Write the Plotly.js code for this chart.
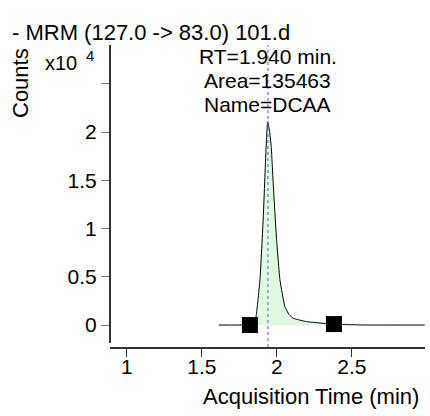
<!DOCTYPE html>
<html>
<head>
<meta charset="utf-8">
<script src="https://cdn.plot.ly/plotly-3.0.1.min.js"></script>
<style>html,body{margin:0;padding:0;background:#fff;}#chart{width:430px;height:416px;}</style>
</head>
<body>
<div id="chart"></div>
<script>
// Chromatogram (counts in units of 10^4)
const timeMin = [1.613, 1.70, 1.78, 1.82, 1.85, 1.862, 1.887, 1.909, 1.927, 1.938, 1.950, 1.962, 1.975, 1.998, 2.020, 2.053, 2.080, 2.109, 2.198, 2.331, 2.38, 2.45, 2.60, 2.80, 2.985];
const counts  = [0, 0, 0, 0, 0.02, 0.10, 0.47, 1.12, 1.81, 2.107, 2.02, 1.85, 1.47, 0.88, 0.47, 0.19, 0.11, 0.07, 0.035, 0.015, 0.01, 0.005, 0.0, 0.0, 0.0];
// Integration limits
const integTime = [1.82, 2.38];
const integCounts = [0, 0.01];
const rt = 1.940;
const labelLines = ["RT=1.940 min.", "Area=135463", "Name=DCAA"];
const yTickVals = [0, 0.5, 1, 1.5, 2, 2.5];
const yTickText = ["0", "0.5", "1", "1.5", "2", ""];
const xTickVals = [1, 1.5, 2, 2.5];
const xTickText = ["1", "1.5", "2", "2.5"];

const FONT = "Liberation Sans, Arial, sans-serif";

const fillX = [], fillY = [];
for (let i = 0; i < timeMin.length; i++) {
  if (timeMin[i] >= integTime[0] && timeMin[i] <= integTime[1]) { fillX.push(timeMin[i]); fillY.push(counts[i]); }
}

const traces = [
  {x: fillX, y: fillY, type: 'scatter', mode: 'lines', fill: 'tozeroy', fillcolor: '#e0f8e0', line: {width: 0, color: 'rgba(0,0,0,0)', shape: 'spline', smoothing: 0.4}, hoverinfo: 'skip'},
  {x: timeMin, y: counts, type: 'scatter', mode: 'lines', line: {color: '#000', width: 1, shape: 'spline', smoothing: 0.4}},
  {x: integTime, y: integCounts, type: 'scatter', mode: 'markers', marker: {symbol: 'square', size: 16, color: '#000'}}
];

const lineY = [57, 80.5, 104];
const annotations = labelLines.map((t, i) => ({
  xref: 'x', yref: 'paper', x: rt, y: 1 - (lineY[i]-45)/302, text: t, showarrow: false,
  xanchor: 'center', yanchor: 'middle', borderpad: 0, valign: 'middle',
  font: {size: 21, color: '#000', family: FONT}
})).concat([
  {xref: 'paper', yref: 'paper', x: 1, y: 0, yshift: -49, xshift: -4, text: 'Acquisition Time (min)', showarrow: false, xanchor: 'right', yanchor: 'middle', font: {size: 22, color: '#000', family: FONT}},
  {xref: 'paper', yref: 'paper', x: 0, y: 1, xshift: -89, yshift: -38, text: 'Counts', textangle: -90, showarrow: false, xanchor: 'center', yanchor: 'middle', font: {size: 22, color: '#000', family: FONT}},
  {xref: 'paper', yref: 'paper', x: 0, y: 1, xshift: -66, yshift: -18, text: 'x10', showarrow: false, xanchor: 'left', yanchor: 'middle', font: {size: 20, color: '#000', family: FONT}},
  {xref: 'paper', yref: 'paper', x: 0, y: 1, xshift: -25, yshift: -10, text: '4', showarrow: false, xanchor: 'left', yanchor: 'middle', font: {size: 15, color: '#000', family: FONT}}
]);

const layout = {
  width: 430, height: 416,
  margin: {l: 109, r: 5, t: 45, b: 69},
  paper_bgcolor: '#fff', plot_bgcolor: '#fff',
  showlegend: false,
  title: {text: '- MRM (127.0 -> 83.0) 101.d', x: 12/430, xanchor: 'left', xref: 'container', y: 1 - 32/416, yanchor: 'middle', yref: 'container', font: {size: 22, color: '#000', family: FONT}},
  xaxis: {range: [0.887, 2.987], showgrid: false, zeroline: false, showline: true, linecolor: '#333', linewidth: 1.5,
          ticks: 'outside', ticklen: 8, tickcolor: '#333', tickwidth: 1, tickvals: xTickVals, ticktext: xTickText,
          ticklabelstandoff: -8,
          tickfont: {size: 21, color: '#000', family: FONT}, anchor: 'free', position: 0, domain: [0.003, 1]},
  yaxis: {range: [-0.187, 2.902], showgrid: false, zeroline: false, showline: true, linecolor: '#333', linewidth: 1.5,
          ticks: 'outside', ticklen: 8, tickcolor: '#777', tickwidth: 1, tickvals: yTickVals, ticktext: yTickText,
          tickfont: {size: 21, color: '#000', family: FONT}, domain: [0.013, 1], anchor: 'free', position: 0},
  shapes: [
    {type: 'line', xref: 'x', yref: 'paper', x0: rt, x1: rt, y0: 0, y1: 1, line: {color: '#5a5ad0', width: 1, dash: 'dot'}}
  ],
  annotations: annotations
};

Plotly.newPlot('chart', traces, layout, {displayModeBar: false, staticPlot: true});
</script>
</body>
</html>
